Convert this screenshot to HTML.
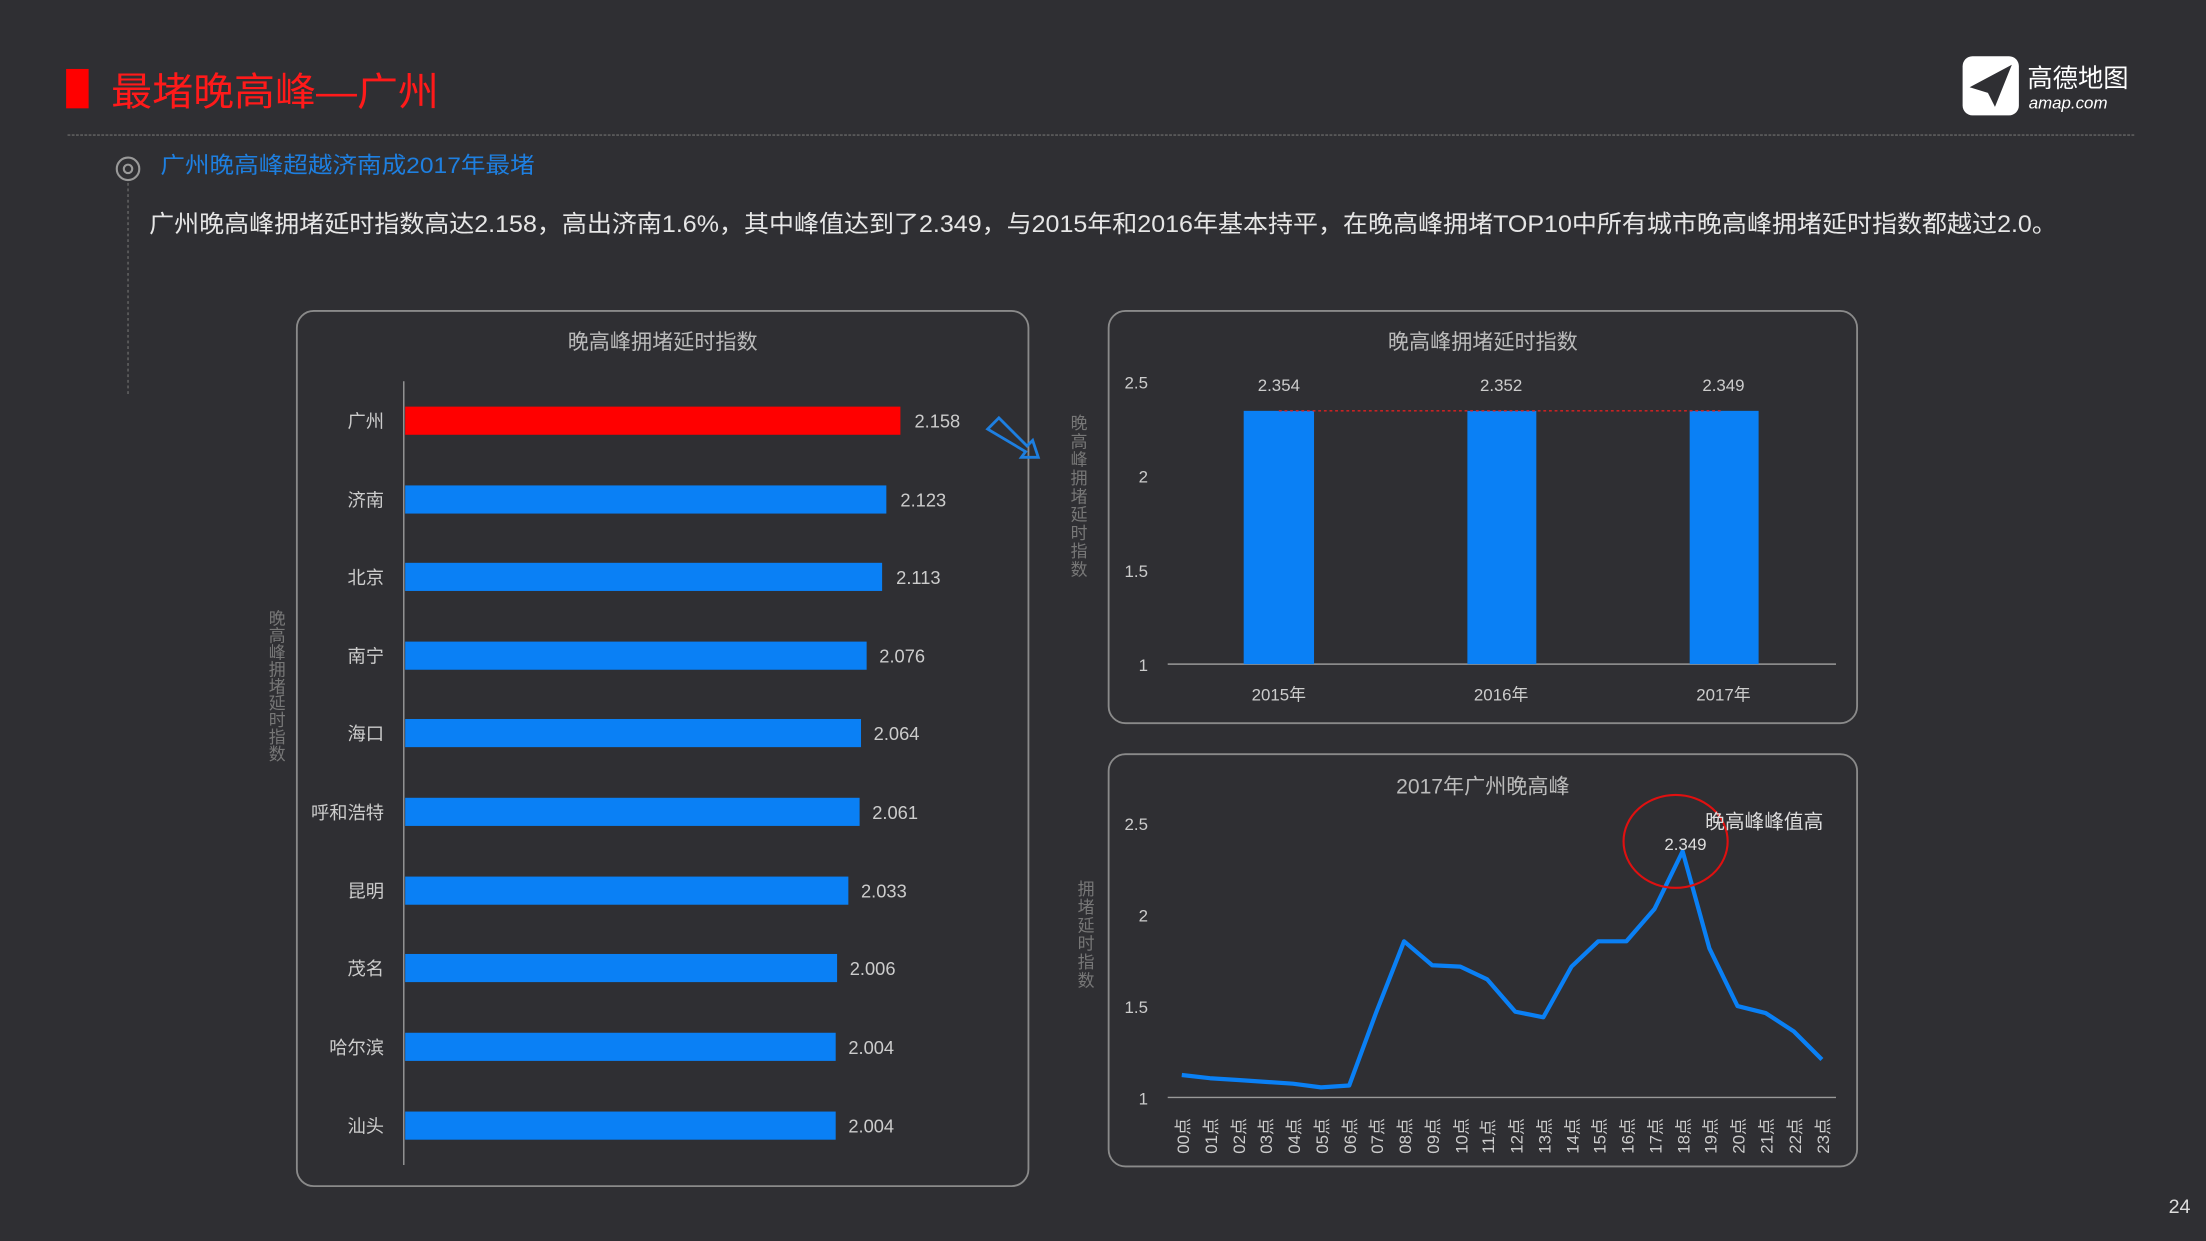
<!DOCTYPE html>
<html><head><meta charset="utf-8"><style>
html,body{margin:0;padding:0;background:#2f2f33;}
svg{display:block}
text{font-family:"Liberation Sans","Noto Sans CJK SC",sans-serif;}
</style></head><body>
<svg width="2206" height="1241" viewBox="0 0 1568 882" preserveAspectRatio="none" xmlns="http://www.w3.org/2000/svg">
<rect width="1568" height="882" fill="#2f2f33"/>
<rect x="47" y="49" width="16" height="28" fill="#ff0000"/>
<text x="79" y="75" font-size="28" fill="#ff1a1a" textLength="233" lengthAdjust="spacingAndGlyphs">最堵晚高峰—广州</text>
<!-- logo -->
<rect x="1395" y="40" width="40" height="42" rx="7" fill="#fff"/>
<path d="M1400 62 L1430 46 L1418 76 L1413 66 Z" fill="#2f2f33"/>
<text x="1441" y="62" font-size="18" fill="#fff">高德地图</text>
<text x="1442" y="77" font-size="12" fill="#fff" font-style="italic">amap.com</text>
<line x1="48" y1="96" x2="1518" y2="96" stroke="#666" stroke-width="1" stroke-dasharray="2,1"/>
<circle cx="91" cy="120" r="8" fill="none" stroke="#999" stroke-width="1.5"/>
<circle cx="91" cy="120" r="3" fill="none" stroke="#999" stroke-width="1.5"/>
<line x1="91" y1="130" x2="91" y2="280" stroke="#666" stroke-dasharray="2,2"/>
<text x="114" y="123" font-size="16" fill="#1e7fe0" textLength="266" lengthAdjust="spacingAndGlyphs">广州晚高峰超越济南成2017年最堵</text>
<text x="106" y="165" font-size="17" fill="#e6e6e6" textLength="1356" lengthAdjust="spacingAndGlyphs">广州晚高峰拥堵延时指数高达2.158，高出济南1.6%，其中峰值达到了2.349，与2015年和2016年基本持平，在晚高峰拥堵TOP10中所有城市晚高峰拥堵延时指数都越过2.0。</text>

<!-- left panel -->
<rect x="211" y="221" width="520" height="622" rx="12" fill="none" stroke="#8a8a8a" stroke-width="1.3"/>
<text x="471" y="248" font-size="15" fill="#bbb" text-anchor="middle">晚高峰拥堵延时指数</text>
<text font-size="12" fill="#777" text-anchor="middle"><tspan x="197" y="444">晚</tspan><tspan x="197" y="456">高</tspan><tspan x="197" y="468">峰</tspan><tspan x="197" y="480">拥</tspan><tspan x="197" y="492">堵</tspan><tspan x="197" y="504">延</tspan><tspan x="197" y="516">时</tspan><tspan x="197" y="528">指</tspan><tspan x="197" y="540">数</tspan></text>
<line x1="287" y1="271" x2="287" y2="828" stroke="#999" stroke-width="1"/>
<g font-size="13" fill="#ccc">
<rect x="288" y="289" width="352" height="20" fill="#ff0000"/>
<text x="273" y="304" text-anchor="end">广州</text><text x="650" y="304">2.158</text>
<rect x="288" y="345" width="342" height="20" fill="#0a80f5"/>
<text x="273" y="360" text-anchor="end">济南</text><text x="640" y="360">2.123</text>
<rect x="288" y="400" width="339" height="20" fill="#0a80f5"/>
<text x="273" y="415" text-anchor="end">北京</text><text x="637" y="415">2.113</text>
<rect x="288" y="456" width="328" height="20" fill="#0a80f5"/>
<text x="273" y="471" text-anchor="end">南宁</text><text x="625" y="471">2.076</text>
<rect x="288" y="511" width="324" height="20" fill="#0a80f5"/>
<text x="273" y="526" text-anchor="end">海口</text><text x="621" y="526">2.064</text>
<rect x="288" y="567" width="323" height="20" fill="#0a80f5"/>
<text x="273" y="582" text-anchor="end">呼和浩特</text><text x="620" y="582">2.061</text>
<rect x="288" y="623" width="315" height="20" fill="#0a80f5"/>
<text x="273" y="638" text-anchor="end">昆明</text><text x="612" y="638">2.033</text>
<rect x="288" y="678" width="307" height="20" fill="#0a80f5"/>
<text x="273" y="693" text-anchor="end">茂名</text><text x="604" y="693">2.006</text>
<rect x="288" y="734" width="306" height="20" fill="#0a80f5"/>
<text x="273" y="749" text-anchor="end">哈尔滨</text><text x="603" y="749">2.004</text>
<rect x="288" y="790" width="306" height="20" fill="#0a80f5"/>
<text x="273" y="805" text-anchor="end">汕头</text><text x="603" y="805">2.004</text>
</g>
<path d="M702 305 L710 297 L730 317 L734 313 L738 325 L726 325 L729 321 Z" fill="none" stroke="#1e7fe0" stroke-width="2"/>

<!-- top right -->
<rect x="788" y="221" width="532" height="293" rx="12" fill="none" stroke="#8a8a8a" stroke-width="1.3"/>
<text x="1054" y="248" font-size="15" fill="#bbb" text-anchor="middle">晚高峰拥堵延时指数</text>
<text font-size="12" fill="#777" text-anchor="middle"><tspan x="767" y="305">晚</tspan><tspan x="767" y="318">高</tspan><tspan x="767" y="331">峰</tspan><tspan x="767" y="344">拥</tspan><tspan x="767" y="357">堵</tspan><tspan x="767" y="370">延</tspan><tspan x="767" y="383">时</tspan><tspan x="767" y="396">指</tspan><tspan x="767" y="409">数</tspan></text>
<g font-size="12" fill="#ccc" text-anchor="end">
<text x="816" y="276">2.5</text><text x="816" y="343">2</text><text x="816" y="410">1.5</text><text x="816" y="477">1</text>
</g>
<line x1="830" y1="472" x2="1305" y2="472" stroke="#999" stroke-width="1"/>
<rect x="884" y="292" width="50" height="180" fill="#0a80f5"/>
<rect x="1043" y="292" width="49" height="180" fill="#0a80f5"/>
<rect x="1201" y="292" width="49" height="180" fill="#0a80f5"/>
<line x1="909" y1="292" x2="1225" y2="292" stroke="#e02020" stroke-width="1" stroke-dasharray="2,2"/>
<g font-size="12" fill="#ccc" text-anchor="middle">
<text x="909" y="278">2.354</text><text x="1067" y="278">2.352</text><text x="1225" y="278">2.349</text>
<text x="909" y="498">2015年</text><text x="1067" y="498">2016年</text><text x="1225" y="498">2017年</text>
</g>

<!-- bottom right -->
<rect x="788" y="536" width="532" height="293" rx="12" fill="none" stroke="#8a8a8a" stroke-width="1.3"/>
<text x="1054" y="564" font-size="15" fill="#bbb" text-anchor="middle">2017年广州晚高峰</text>
<text font-size="12" fill="#777" text-anchor="middle"><tspan x="772" y="636">拥</tspan><tspan x="772" y="649">堵</tspan><tspan x="772" y="662">延</tspan><tspan x="772" y="675">时</tspan><tspan x="772" y="688">指</tspan><tspan x="772" y="701">数</tspan></text>
<g font-size="12" fill="#ccc" text-anchor="end">
<text x="816" y="590">2.5</text><text x="816" y="655">2</text><text x="816" y="720">1.5</text><text x="816" y="785">1</text>
</g>
<line x1="830" y1="780" x2="1305" y2="780" stroke="#999" stroke-width="1"/>
<polyline fill="none" stroke="#0a80f5" stroke-width="3" stroke-linejoin="round" points="840,764 860,766.3 880,767.6 899.5,768.9 919,770.2 939,772.8 959,771.5 978,720 998,669 1018,686 1038,687 1057,696 1077,719 1097,723 1117,687 1136,669 1156,669 1176,646 1196,605 1215,674 1235,715 1255,720 1275,733 1295,753"/>
<ellipse cx="1191" cy="598" rx="37" ry="33" fill="none" stroke="#e01010" stroke-width="1.5"/>
<text x="1198" y="604" font-size="12" fill="#ddd" text-anchor="middle">2.349</text>
<text x="1212" y="589" font-size="14" fill="#ddd">晚高峰峰值高</text>
<g font-size="12" fill="#ccc">
<text transform="translate(845,820) rotate(-90)">00点</text>
<text transform="translate(865,820) rotate(-90)">01点</text>
<text transform="translate(885,820) rotate(-90)">02点</text>
<text transform="translate(904,820) rotate(-90)">03点</text>
<text transform="translate(924,820) rotate(-90)">04点</text>
<text transform="translate(944,820) rotate(-90)">05点</text>
<text transform="translate(964,820) rotate(-90)">06点</text>
<text transform="translate(983,820) rotate(-90)">07点</text>
<text transform="translate(1003,820) rotate(-90)">08点</text>
<text transform="translate(1023,820) rotate(-90)">09点</text>
<text transform="translate(1043,820) rotate(-90)">10点</text>
<text transform="translate(1062,820) rotate(-90)">11点</text>
<text transform="translate(1082,820) rotate(-90)">12点</text>
<text transform="translate(1102,820) rotate(-90)">13点</text>
<text transform="translate(1122,820) rotate(-90)">14点</text>
<text transform="translate(1141,820) rotate(-90)">15点</text>
<text transform="translate(1161,820) rotate(-90)">16点</text>
<text transform="translate(1181,820) rotate(-90)">17点</text>
<text transform="translate(1201,820) rotate(-90)">18点</text>
<text transform="translate(1220,820) rotate(-90)">19点</text>
<text transform="translate(1240,820) rotate(-90)">20点</text>
<text transform="translate(1260,820) rotate(-90)">21点</text>
<text transform="translate(1280,820) rotate(-90)">22点</text>
<text transform="translate(1300,820) rotate(-90)">23点</text>
</g>
<text x="1557" y="862" font-size="14" fill="#ddd" text-anchor="end">24</text>
</svg>
</body></html>
